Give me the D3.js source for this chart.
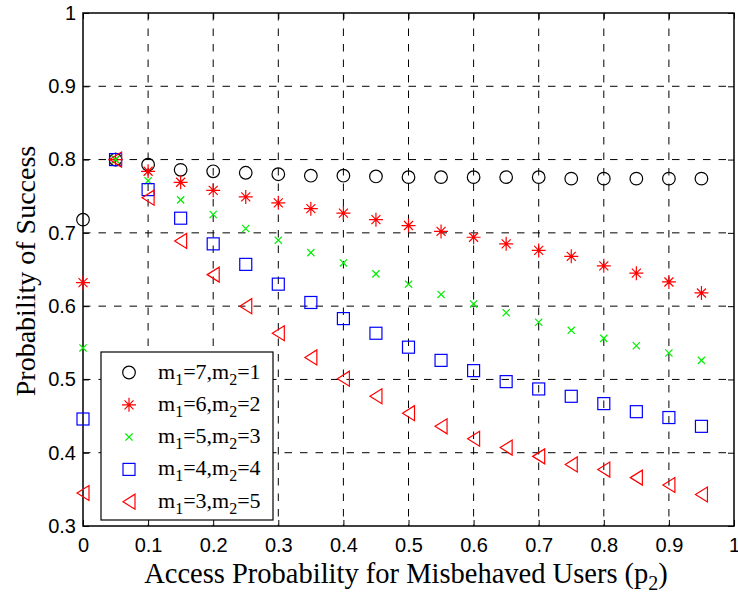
<!DOCTYPE html>
<html>
<head>
<meta charset="utf-8">
<script src="https://cdn.jsdelivr.net/npm/d3@7"></script>
<style>
  body { margin: 0; background: #fff; }
  svg { display: block; font-family: "Liberation Serif", "Times New Roman", serif; }
  .tick text { font-size: 20px; fill: #000; }
  .grid line { stroke: #000; stroke-width: 1; stroke-dasharray: 7.5,8; }
</style>
</head>
<body>
<script>
// access probability of misbehaved users (x)
var pValues = [0, 0.05, 0.1, 0.15, 0.2, 0.25, 0.3, 0.35, 0.4, 0.45,
               0.5, 0.55, 0.6, 0.65, 0.7, 0.75, 0.8, 0.85, 0.9, 0.95];

// probability of success, one list per (m1, m2)
var succ71 = [0.718, 0.800, 0.793, 0.786, 0.784, 0.782, 0.780, 0.778, 0.778, 0.777,
              0.776, 0.776, 0.776, 0.776, 0.776, 0.774, 0.774, 0.774, 0.774, 0.774];
var succ62 = [0.632, 0.800, 0.784, 0.769, 0.758, 0.749, 0.741, 0.733, 0.727, 0.718,
              0.710, 0.702, 0.694, 0.685, 0.676, 0.668, 0.655, 0.645, 0.633, 0.618];
var succ53 = [0.543, 0.800, 0.771, 0.745, 0.725, 0.706, 0.690, 0.673, 0.659, 0.644,
              0.630, 0.616, 0.603, 0.591, 0.578, 0.567, 0.556, 0.546, 0.536, 0.526];
var succ44 = [0.446, 0.800, 0.759, 0.720, 0.685, 0.657, 0.630, 0.605, 0.583, 0.563,
              0.544, 0.526, 0.512, 0.497, 0.487, 0.477, 0.467, 0.456, 0.448, 0.436];
var succ35 = [0.345, 0.800, 0.748, 0.689, 0.643, 0.600, 0.563, 0.530, 0.501, 0.477,
              0.454, 0.436, 0.419, 0.407, 0.395, 0.384, 0.377, 0.366, 0.356, 0.343];

var seriesM1 = [7, 6, 5, 4, 3];
var seriesM2 = [1, 2, 3, 4, 5];
var seriesMarker = ["circle", "star", "cross", "square", "triangle"];
var seriesColor = ["#000000", "#ff0000", "#00ee00", "#0000ff", "#ff0000"];
var seriesValues = [succ71, succ62, succ53, succ44, succ35];

var xTicks = [0, 0.1, 0.2, 0.3, 0.4, 0.5, 0.6, 0.7, 0.8, 0.9, 1];
var yTicks = [0.3, 0.4, 0.5, 0.6, 0.7, 0.8, 0.9, 1];

// Set the dimensions of the canvas / graph
var margin = {top: 13, right: 4, bottom: 74, left: 83},
    width = 738 - margin.left - margin.right,
    height = 600 - margin.top - margin.bottom;

var x = d3.scaleLinear().domain([0, 1]).range([0, width]);
var y = d3.scaleLinear().domain([0.3, 1]).range([height, 0]);

var fmt = d3.format("~g");

var svg = d3.select("body").append("svg")
    .attr("width", 738)
    .attr("height", 600)
    .append("g")
    .attr("transform", "translate(" + margin.left + "," + margin.top + ")");

// dashed grid
var grid = svg.append("g").attr("class", "grid");
grid.selectAll(".vx").data(xTicks.slice(1, -1)).enter().append("line")
    .attr("x1", function (d) { return x(d); })
    .attr("x2", function (d) { return x(d); })
    .attr("y1", 0).attr("y2", height);
grid.selectAll(".hy").data(yTicks.slice(1, -1)).enter().append("line")
    .attr("x1", 0).attr("x2", width)
    .attr("y1", function (d) { return y(d); })
    .attr("y2", function (d) { return y(d); });

// axes, ticks pointing inwards like matlab
function styleAxis(g) {
    g.select(".domain").remove();
    g.selectAll(".tick line").attr("stroke", "#000");
}
svg.append("g")
    .attr("transform", "translate(0," + height + ")")
    .call(d3.axisBottom(x).tickValues(xTicks).tickFormat(fmt).tickSize(-6).tickPadding(12))
    .call(styleAxis);
svg.append("g")
    .call(d3.axisTop(x).tickValues(xTicks).tickFormat("").tickSize(-6))
    .call(styleAxis);
svg.append("g")
    .call(d3.axisLeft(y).tickValues(yTicks).tickFormat(fmt).tickSize(-6).tickPadding(7))
    .call(styleAxis);
svg.append("g")
    .attr("transform", "translate(" + width + ",0)")
    .call(d3.axisRight(y).tickValues(yTicks).tickFormat("").tickSize(-6))
    .call(styleAxis);

svg.append("rect")
    .attr("width", width).attr("height", height)
    .attr("fill", "none").attr("stroke", "#000").attr("stroke-width", 1.5);

// marker shapes
function drawMarker(sel, kind, color) {
    sel.attr("fill", "none").attr("stroke", color).attr("stroke-width", 1.2);
    if (kind === "circle") {
        sel.append("circle").attr("r", 6.3);
    } else if (kind === "square") {
        sel.append("rect").attr("x", -6).attr("y", -6).attr("width", 12).attr("height", 12);
    } else if (kind === "triangle") {
        sel.append("path").attr("d", "M-6,0L6,-7.5L6,7.5Z");
    } else if (kind === "cross") {
        sel.append("path").attr("d", "M-3.6,-3.6L3.6,3.6M-3.6,3.6L3.6,-3.6");
    } else if (kind === "star") {
        sel.append("path").attr("d", "M-7,0L7,0M0,-7L0,7M-4.5,-4.5L4.5,4.5M-4.5,4.5L4.5,-4.5");
    }
}

seriesValues.forEach(function (vals, s) {
    svg.append("g").selectAll("g")
        .data(vals)
        .enter().append("g")
        .attr("transform", function (d, i) {
            return "translate(" + x(pValues[i]) + "," + y(d) + ")";
        })
        .each(function () { drawMarker(d3.select(this), seriesMarker[s], seriesColor[s]); });
});

// legend
var legend = svg.append("g").attr("transform", "translate(" + (101 - margin.left) + "," + (352 - margin.top) + ")");
legend.append("rect")
    .attr("width", 172).attr("height", 168)
    .attr("fill", "#fff").attr("stroke", "#000").attr("stroke-width", 1.2);

seriesM1.forEach(function (m1, s) {
    var row = legend.append("g").attr("transform", "translate(0," + (20.5 + s * 32.3) + ")");
    drawMarker(row.append("g").attr("transform", "translate(28,0)"), seriesMarker[s], seriesColor[s]);
    var t = row.append("text")
        .attr("x", 57).attr("y", 6)
        .style("font-size", "22px");
    t.append("tspan").text("m");
    t.append("tspan").attr("dy", 6).style("font-size", "16px").text("1");
    t.append("tspan").attr("dy", -6).text("=" + m1 + ",m");
    t.append("tspan").attr("dy", 6).style("font-size", "16px").text("2");
    t.append("tspan").attr("dy", -6).text("=" + seriesM2[s]);
});

// axis titles
var xt = svg.append("text")
    .attr("text-anchor", "middle")
    .attr("x", 406 - margin.left)
    .attr("y", 583 - margin.top)
    .style("font-size", "28.5px");
xt.append("tspan").text("Access Probability for Misbehaved Users (p");
xt.append("tspan").attr("dy", 7).style("font-size", "20px").text("2");
xt.append("tspan").attr("dy", -7).text(")");

svg.append("text")
    .attr("text-anchor", "middle")
    .attr("transform", "translate(" + (35 - margin.left) + "," + (271 - margin.top) + ") rotate(-90)")
    .style("font-size", "28px")
    .text("Probability of Success");
</script>
</body>
</html>
